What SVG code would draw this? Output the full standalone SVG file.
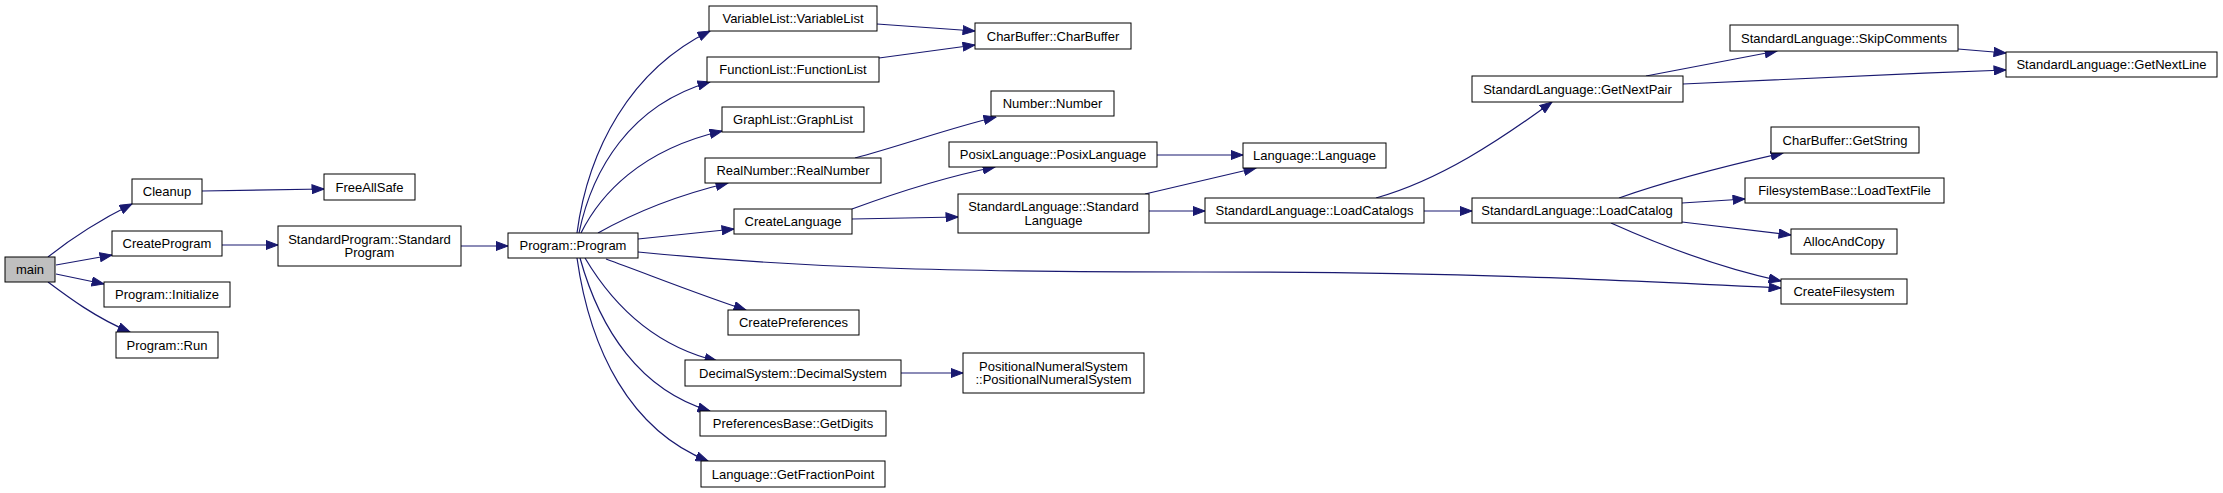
<svg xmlns="http://www.w3.org/2000/svg" width="2223" height="493" viewBox="0 0 2223 493">
<defs>
<style>
.n rect{fill:#fff;stroke:#000;stroke-width:1}
.n.root rect{fill:#bfbfbf}
.n text{font-family:"Liberation Sans",Arial,sans-serif;font-size:13px;fill:#000;text-anchor:middle}
.e path{fill:none;stroke:#191970;stroke-width:1.2;marker-end:url(#ah)}
</style>
<marker id="ah" markerUnits="userSpaceOnUse" markerWidth="13" markerHeight="10" viewBox="0 0 13 10" refX="12.5" refY="5" orient="auto">
<path d="M0.5,0.5 L12.5,5 L0.5,9.5 z" fill="#191970" stroke="#191970"/>
</marker>
</defs>
<rect width="2223" height="493" fill="#fff"/>
<g id="connectors" class="e">
<path d="M48,257 C68,241 96,222 132,204"/>
<path d="M56,265 L112,255"/>
<path d="M56,274 L104,284"/>
<path d="M48,282 C68,297 96,318 130,332"/>
<path d="M202,191 L324,189"/>
<path d="M222,245 L278,245"/>
<path d="M461,246 L508,246"/>
<path d="M577,233 C588,150 630,70 710,31"/>
<path d="M579,233 C592,170 630,105 710,82"/>
<path d="M581,233 C600,195 640,150 722,131"/>
<path d="M598,233 C630,215 670,197 728,183"/>
<path d="M638,239 L734,229"/>
<path d="M638,252 C800,268 950,272 1200,272 C1450,272 1600,279 1781,288"/>
<path d="M606,259 C650,275 700,295 746,310"/>
<path d="M585,258 C610,300 650,345 717,361"/>
<path d="M580,258 C600,330 640,390 710,411"/>
<path d="M577,258 C590,350 630,430 708,461"/>
<path d="M901,373 L963,373"/>
<path d="M877,24 L975,31"/>
<path d="M879,58 L975,45"/>
<path d="M855,158 C900,146 950,128 996,117"/>
<path d="M852,209 C890,195 940,178 995,167"/>
<path d="M852,219 L958,217"/>
<path d="M1157,155 L1243,155"/>
<path d="M1145,194 L1256,168"/>
<path d="M1149,211 L1205,211"/>
<path d="M1376,198 C1440,180 1500,140 1552,102"/>
<path d="M1424,211 L1472,211"/>
<path d="M1646,76 L1777,51"/>
<path d="M1683,84 C1800,78 1900,74 2006,70"/>
<path d="M1958,49 L2006,53"/>
<path d="M1619,198 C1670,180 1730,165 1783,153"/>
<path d="M1682,203 L1745,199"/>
<path d="M1682,222 L1791,235"/>
<path d="M1611,223 C1660,245 1720,268 1781,281"/>
</g>
<g id="main" class="n root"><rect x="5" y="257" width="50" height="25"/><text x="30" y="274">main</text></g>
<g id="cleanup" class="n"><rect x="132" y="179" width="70" height="25"/><text x="167" y="196">Cleanup</text></g>
<g id="freeallsafe" class="n"><rect x="324" y="174" width="91" height="26"/><text x="369.5" y="191.5">FreeAllSafe</text></g>
<g id="createprogram" class="n"><rect x="112" y="231" width="110" height="25"/><text x="167" y="248">CreateProgram</text></g>
<g id="standardprogram" class="n"><rect x="278" y="226" width="183" height="40"/><text x="369.5" y="243.5">StandardProgram::Standard</text><text x="369.5" y="257">Program</text></g>
<g id="initialize" class="n"><rect x="104" y="282" width="126" height="25"/><text x="167" y="299">Program::Initialize</text></g>
<g id="run" class="n"><rect x="116" y="332" width="102" height="26"/><text x="167" y="349.5">Program::Run</text></g>
<g id="program" class="n"><rect x="508" y="233" width="130" height="25"/><text x="573" y="250">Program::Program</text></g>
<g id="variablelist" class="n"><rect x="709" y="6" width="168" height="25"/><text x="793" y="23">VariableList::VariableList</text></g>
<g id="functionlist" class="n"><rect x="707" y="57" width="172" height="25"/><text x="793" y="74">FunctionList::FunctionList</text></g>
<g id="graphlist" class="n"><rect x="722" y="107" width="142" height="25"/><text x="793" y="124">GraphList::GraphList</text></g>
<g id="realnumber" class="n"><rect x="705" y="158" width="176" height="25"/><text x="793" y="175">RealNumber::RealNumber</text></g>
<g id="createlanguage" class="n"><rect x="734" y="209" width="118" height="25"/><text x="793" y="226">CreateLanguage</text></g>
<g id="createpreferences" class="n"><rect x="728" y="310" width="131" height="25"/><text x="793.5" y="327">CreatePreferences</text></g>
<g id="decimalsystem" class="n"><rect x="685" y="360" width="216" height="26"/><text x="793" y="377.5">DecimalSystem::DecimalSystem</text></g>
<g id="getdigits" class="n"><rect x="700" y="411" width="186" height="25"/><text x="793" y="428">PreferencesBase::GetDigits</text></g>
<g id="getfractionpoint" class="n"><rect x="701" y="461" width="184" height="26"/><text x="793" y="478.5">Language::GetFractionPoint</text></g>
<g id="positionalnumeralsystem" class="n"><rect x="963" y="353" width="181" height="40"/><text x="1053.5" y="370.5">PositionalNumeralSystem</text><text x="1053.5" y="384">::PositionalNumeralSystem</text></g>
<g id="charbuffer" class="n"><rect x="975" y="23" width="156" height="26"/><text x="1053" y="40.5">CharBuffer::CharBuffer</text></g>
<g id="number" class="n"><rect x="991" y="91" width="123" height="25"/><text x="1052.5" y="108">Number::Number</text></g>
<g id="posixlanguage" class="n"><rect x="949" y="142" width="208" height="25"/><text x="1053" y="159">PosixLanguage::PosixLanguage</text></g>
<g id="standardlanguage" class="n"><rect x="958" y="194" width="191" height="39"/><text x="1053.5" y="211">StandardLanguage::Standard</text><text x="1053.5" y="224.5">Language</text></g>
<g id="language" class="n"><rect x="1243" y="143" width="143" height="25"/><text x="1314.5" y="160">Language::Language</text></g>
<g id="loadcatalogs" class="n"><rect x="1205" y="198" width="219" height="25"/><text x="1314.5" y="215">StandardLanguage::LoadCatalogs</text></g>
<g id="loadcatalog" class="n"><rect x="1472" y="198" width="210" height="25"/><text x="1577" y="215">StandardLanguage::LoadCatalog</text></g>
<g id="getnextpair" class="n"><rect x="1472" y="76" width="211" height="26"/><text x="1577.5" y="93.5">StandardLanguage::GetNextPair</text></g>
<g id="skipcomments" class="n"><rect x="1730" y="25" width="228" height="26"/><text x="1844" y="42.5">StandardLanguage::SkipComments</text></g>
<g id="getnextline" class="n"><rect x="2006" y="52" width="211" height="25"/><text x="2111.5" y="69">StandardLanguage::GetNextLine</text></g>
<g id="getstring" class="n"><rect x="1771" y="127" width="148" height="26"/><text x="1845" y="144.5">CharBuffer::GetString</text></g>
<g id="loadtextfile" class="n"><rect x="1745" y="178" width="199" height="25"/><text x="1844.5" y="195">FilesystemBase::LoadTextFile</text></g>
<g id="allocandcopy" class="n"><rect x="1791" y="229" width="106" height="25"/><text x="1844" y="246">AllocAndCopy</text></g>
<g id="createfilesystem" class="n"><rect x="1781" y="279" width="126" height="25"/><text x="1844" y="296">CreateFilesystem</text></g>
</svg>
